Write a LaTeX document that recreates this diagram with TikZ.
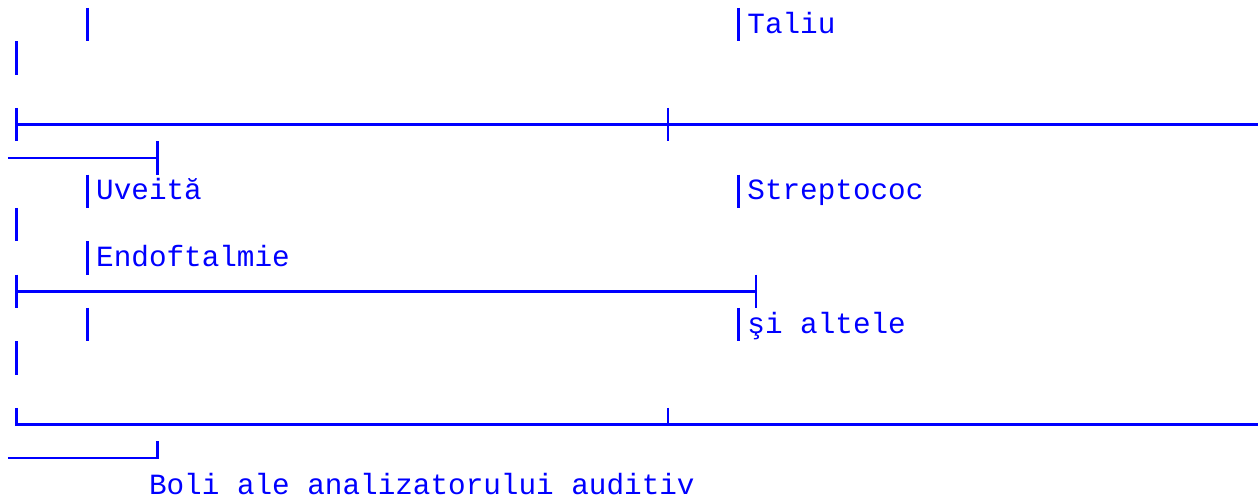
\documentclass[tikz,border=0pt]{standalone}
\usepackage{fontspec}
\setmonofont{Liberation Mono}
\usetikzlibrary{calc}

\begin{document}
\begin{tikzpicture} [x=17.6pt, y=-33.33pt,
	bar/.style={draw=blue, line width=2.7pt},
	lbl/.style={anchor=base west, inner sep=0pt, text=blue,%
		font=\ttfamily\fontsize{29.33}{33}\selectfont}]

		\useasboundingbox (-0.4545,-0.24) rectangle (71.02,14.85);

		% row 0
		\draw [bar] (4.5,0) -- (4.5,1);

		\draw [bar] (41.5,0) -- (41.5,1);

		\node[lbl] (taliu) at (42,0.76) {Taliu};

		% row 1
		\draw [bar] (0.5,1) -- (0.5,2);

		% row 3
		\draw [bar] (0.5,3) -- (0.5,4);

		\draw [bar] (0.5,3.5) -- (71.02,3.5);

		\draw [bar] (37.5,3) -- (37.5,4);

		% row 4
		\draw [bar] (0,4.5) -- (8.5,4.5);

		\draw [bar] (8.5,4) -- (8.5,5);

		% row 5
		\draw [bar] (4.5,5) -- (4.5,6);

		\node[lbl] (uveita) at (5,5.76) {Uveită};

		\draw [bar] (41.5,5) -- (41.5,6);

		\node[lbl] (strepto) at (42,5.76) {Streptococ};

		% row 6
		\draw [bar] (0.5,6) -- (0.5,7);

		% row 7
		\draw [bar] (4.5,7) -- (4.5,8);

		\node[lbl] (endo) at (5,7.76) {Endoftalmie};

		% row 8
		\draw [bar] (0.5,8) -- (0.5,9);

		\draw [bar] (0.5,8.5) -- (42.5,8.5);

		\draw [bar] (42.5,8) -- (42.5,9);

		% row 9
		\draw [bar] (4.5,9) -- (4.5,10);

		\draw [bar] (41.5,9) -- (41.5,10);

		\node[lbl] (altele) at (42,9.76) {şi altele};

		% row 10
		\draw [bar] (0.5,10) -- (0.5,11);

		% row 12
		\draw [bar] (0.5,12) -- (0.5,12.5) -- (71.02,12.5);

		\draw [bar] (37.5,12) -- (37.5,12.5);

		% row 13
		\draw [bar] (0,13.5) -- (8.5,13.5) -- (8.5,13);

		% row 14
		\node[lbl] (boli) at (8,14.61) {Boli ale analizatorului auditiv};
	\end{tikzpicture}
\end{document}
